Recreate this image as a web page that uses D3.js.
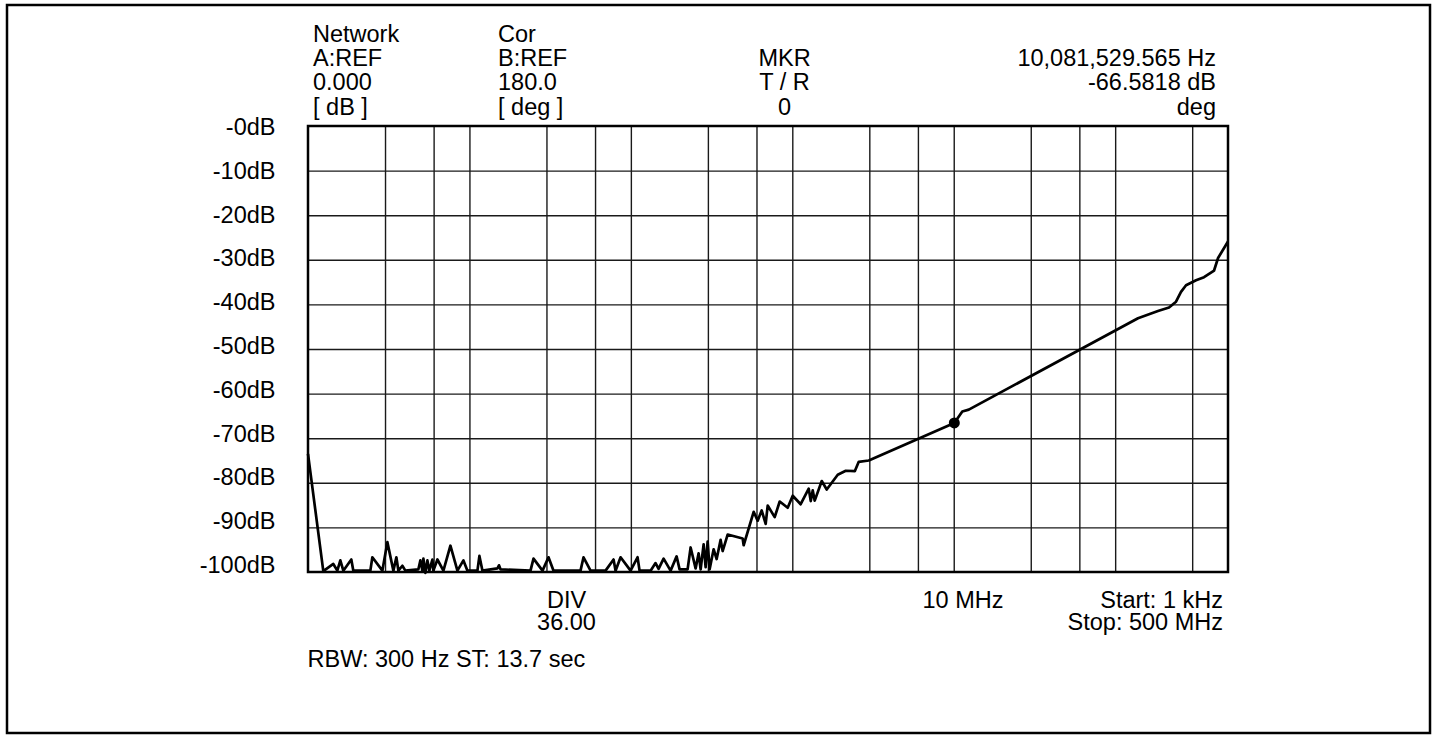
<!DOCTYPE html>
<html>
<head>
<meta charset="utf-8">
<script src="https://cdn.jsdelivr.net/npm/d3@7"></script>
<style>
  html, body { margin: 0; padding: 0; background: #fff; }
  svg text { font-family: "Liberation Sans", Arial, Helvetica, sans-serif; font-size: 23.5px; fill: #000; }
</style>
</head>
<body>
<svg id="chart" width="1437" height="738"></svg>
<script>
// ---------- data ----------
const freqHz = [
  1000, 1244, 1435, 1519, 1586, 1655, 1855, 1909, 2434, 2504, 2888, 3102, 3380, 3527, 3629, 3842, 4010,
  4829, 4969, 5113, 5187, 5337, 5491, 5649, 5896, 5981, 6333, 6900, 7624, 8425, 9180, 9719,
  11210, 11530, 12040, 14920, 15240, 15570, 23890, 24940, 28360, 30890, 33180, 48770, 50900, 56260,
  69700, 78130, 80390, 86360, 99560, 110000, 113200, 132500,
  142200, 148500, 159500, 176200, 192000, 200400, 224600, 234500, 251800, 262800, 270500, 282300,
  290500, 298900, 307600, 325600, 339900, 359800, 370300, 397700, 492600, 499700,
  576400, 610300, 646100, 684100, 704000, 778000, 835600, 936500, 1006000, 1127000, 1264000, 1301000,
  1338000, 1377000, 1522000, 1634000, 1912000, 2144000, 2438000, 2580000, 2976000,
  10081529.565, 11300000, 12400000, 138500000, 184200000, 215600000, 238200000, 255800000,
  274800000, 317000000, 355200000, 409900000, 433900000, 500000000
];
const magDb = [
  -73.5, -99.8, -98.2, -99.7, -97.4, -99.7, -97.2, -99.7, -99.7, -96.7, -99.7, -93.3, -99.7, -96.7, -99.7, -98.6, -99.7,
  -99.4, -97.4, -99.7, -97.0, -100.2, -97.4, -99.7, -97.2, -99.7, -97.2, -99.7, -94.1, -99.7, -97.4, -99.7,
  -99.7, -96.4, -99.7, -99.2, -98.5, -99.4, -99.7, -97.0, -99.7, -96.7, -99.7, -99.7, -96.7, -99.7,
  -99.7, -97.2, -99.7, -96.7, -99.7, -96.7, -99.7, -99.7,
  -98.0, -99.3, -97.0, -99.7, -96.5, -99.4, -99.4, -94.5, -99.2, -95.8, -99.4, -93.8,
  -98.9, -93.2, -99.4, -94.9, -97.1, -92.8, -95.3, -91.6, -92.5, -94.0,
  -86.5, -88.5, -86.2, -89.2, -85.1, -87.7, -84.2, -85.6, -82.9, -84.8, -81.3, -84.1,
  -81.7, -84.0, -79.6, -81.5, -78.2, -77.3, -77.4, -75.3, -75.0,
  -66.58, -64.0, -63.6, -43.1, -41.5, -40.7, -39.4, -37.2,
  -35.7, -34.6, -33.9, -32.4, -29.6, -25.9
];
const markerHz = 10081529.565;
const markerDb = -66.5818;
const gridFreqs = [3e3, 6e3, 1e4, 3e4, 6e4, 1e5, 3e5, 6e5, 1e6, 3e6, 6e6, 1e7, 3e7, 6e7, 1e8, 3e8];
const dbTicks = [0, -10, -20, -30, -40, -50, -60, -70, -80, -90, -100];
const dbTickLabels = ["-0dB", "-10dB", "-20dB", "-30dB", "-40dB", "-50dB", "-60dB", "-70dB", "-80dB", "-90dB", "-100dB"];
const networkLines = ["Network", "A:REF", "0.000", "[ dB ]"];
const corLines = ["Cor", "B:REF", "180.0", "[ deg ]"];
const mkrLines = ["MKR", "T / R", "0"];
const markerLines = ["10,081,529.565 Hz", "-66.5818 dB", "deg"];
const divLines = ["DIV", "36.00"];
const centerLabel = ["10 MHz"];
const spanLines = ["Start: 1 kHz", "Stop: 500 MHz"];
const footer = ["RBW: 300 Hz ST: 13.7 sec"];

// ---------- layout ----------
const svg = d3.select("#chart");
const L = 308, R = 1228, T = 126, B = 572;
const x = d3.scaleLog().domain([1e3, 5e8]).range([L, R]);
const y = d3.scaleLinear().domain([0, -100]).range([T, B]);
const yLab = d3.scaleLinear().domain([0, -100]).range([135, 573]);

// outer frame
svg.append("rect").attr("x", 7).attr("y", 5).attr("width", 1423).attr("height", 728)
  .attr("fill", "none").attr("stroke", "#000").attr("stroke-width", 2.5);

// grid
svg.append("g").attr("transform", `translate(0,${B})`)
  .call(d3.axisBottom(x).tickValues(gridFreqs).tickSize(-(B - T)).tickFormat(""))
  .call(s => s.select(".domain").remove())
  .call(s => s.selectAll("line").attr("stroke", "#1a1a1a").attr("stroke-width", 1.4));
svg.append("g").attr("transform", `translate(${L},0)`)
  .call(d3.axisLeft(y).tickValues(dbTicks.slice(1, -1)).tickSize(-(R - L)).tickFormat(""))
  .call(s => s.select(".domain").remove())
  .call(s => s.selectAll("line").attr("stroke", "#1a1a1a").attr("stroke-width", 1.4));

// y labels
svg.append("g").selectAll("text").data(dbTicks).join("text")
  .attr("x", 275.5).attr("y", d => yLab(d)).attr("text-anchor", "end")
  .text((d, i) => dbTickLabels[i]);

// trace
const line = d3.line().x((d, i) => x(freqHz[i])).y(d => y(d));
svg.append("path").datum(magDb).attr("d", line)
  .attr("fill", "none").attr("stroke", "#000").attr("stroke-width", 2.7).attr("stroke-linejoin", "round");

// plot border
svg.append("rect").attr("x", L).attr("y", T).attr("width", R - L).attr("height", B - T)
  .attr("fill", "none").attr("stroke", "#000").attr("stroke-width", 2.5);

// marker
svg.append("circle").attr("cx", x(markerHz)).attr("cy", y(markerDb)).attr("r", 5.5).attr("fill", "#000");

// texts
function block(lines, xx, y0, anchor, dy) {
  svg.append("g").selectAll("text").data(lines).join("text")
    .attr("x", xx).attr("y", (d, i) => y0 + i * dy).attr("text-anchor", anchor)
    .text(d => d);
}
block(networkLines, 313, 42, "start", 24.2);
block(corLines, 498, 42, "start", 24.2);
block(mkrLines, 784.5, 66.2, "middle", 24.2);
block(markerLines, 1216, 66.2, "end", 24.2);
block(divLines, 566.5, 608, "middle", 21.5);
block(centerLabel, 963, 608, "middle", 21.5);
block(spanLines, 1223, 608, "end", 21.5);
block(footer, 307.5, 667, "start", 21.5);
</script>
</body>
</html>
